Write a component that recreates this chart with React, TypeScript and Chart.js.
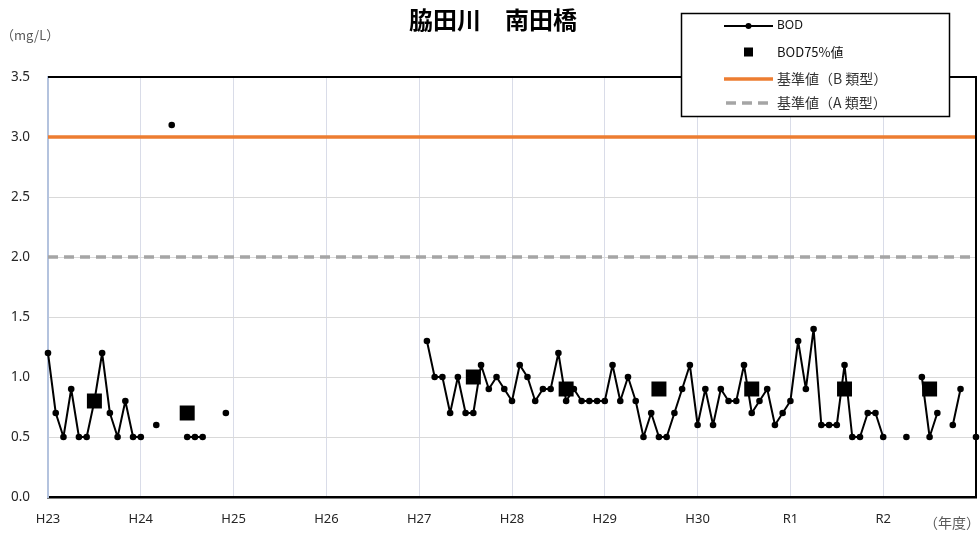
import React, { useEffect, useRef } from "react";
import { Chart, registerables } from "chart.js";

Chart.register(...registerables);

const yearLabels = ["H23", "H24", "H25", "H26", "H27", "H28", "H29", "H30", "R1", "R2"];

// Monthly BOD (Apr..Mar) per fiscal year, mg/L
const bodH23 = [1.2, 0.7, 0.5, 0.9, 0.5, 0.5, 0.8, 1.2, 0.7, 0.5, 0.8, 0.5];
const bodH24 = [0.5, null, 0.6, null, 3.1, null, 0.5, 0.5, 0.5, null, null, 0.7];
const bodH25 = [null, null, null, null, null, null, null, null, null, null, null, null];
const bodH26 = [null, null, null, null, null, null, null, null, null, null, null, null];
const bodH27 = [null, 1.3, 1.0, 1.0, 0.7, 1.0, 0.7, 0.7, 1.1, 0.9, 1.0, 0.9];
const bodH28 = [0.8, 1.1, 1.0, 0.8, 0.9, 0.9, 1.2, 0.8, 0.9, 0.8, 0.8, 0.8];
const bodH29 = [0.8, 1.1, 0.8, 1.0, 0.8, 0.5, 0.7, 0.5, 0.5, 0.7, 0.9, 1.1];
const bodH30 = [0.6, 0.9, 0.6, 0.9, 0.8, 0.8, 1.1, 0.7, 0.8, 0.9, 0.6, 0.7];
const bodR1 = [0.8, 1.3, 0.9, 1.4, 0.6, 0.6, 0.6, 1.1, 0.5, 0.5, 0.7, 0.7];
const bodR2 = [0.5, null, null, 0.5, null, 1.0, 0.5, 0.7, null, 0.6, 0.9, null];
const bodR3Apr = [0.5];

// BOD 75% value: month index (from H23 April) and value
const bod75Index = [6, 18, 55, 67, 79, 91, 103, 114];
const bod75Value = [0.8, 0.7, 1.0, 0.9, 0.9, 0.9, 0.9, 0.9];

const standardB = 3.0;
const standardA = 2.0;

const yTicks = [0, 0.5, 1.0, 1.5, 2.0, 2.5, 3.0, 3.5];

const FONT_JP = '"Noto Sans CJK JP", "Noto Sans", sans-serif';
const FONT_LAT = '"Noto Sans", "Open Sans", sans-serif';

export default function App() {
  const ref = useRef<HTMLCanvasElement | null>(null);

  useEffect(() => {
    const bod: (number | null)[] = [
      ...bodH23, ...bodH24, ...bodH25, ...bodH26, ...bodH27,
      ...bodH28, ...bodH29, ...bodH30, ...bodR1, ...bodR2, ...bodR3Apr,
    ];
    const n = bod.length;
    const labels: string[] = [];
    for (let i = 0; i < n; i++) labels.push(String(i));
    const bod75: (number | null)[] = new Array(n).fill(null);
    bod75Index.forEach((idx, k) => (bod75[idx] = bod75Value[k]));
    const lineB = new Array(n).fill(standardB);
    const lineA = new Array(n).fill(standardA);

    const decor = {
      id: "decor",
      afterDraw(chart: any) {
        const { ctx, chartArea } = chart;
        const { left, right, top, bottom } = chartArea;
        ctx.save();
        // top & right frame
        ctx.strokeStyle = "#000";
        ctx.lineWidth = 2;
        ctx.beginPath();
        ctx.moveTo(left, top);
        ctx.lineTo(right, top);
        ctx.lineTo(right, bottom);
        ctx.stroke();

        // title
        ctx.fillStyle = "#000";
        ctx.font = `bold 24px ${FONT_JP}`;
        ctx.textAlign = "center";
        ctx.textBaseline = "middle";
        ctx.fillText("脇田川　南田橋", 493, 20);

        // unit labels
        ctx.fillStyle = "#595959";
        ctx.font = `13px ${FONT_JP}`;
        ctx.textAlign = "left";
        ctx.fillText("（mg/L）", 1, 35);
        ctx.font = `14px ${FONT_JP}`;
        ctx.textAlign = "right";
        ctx.fillText("（年度）", 980, 523);

        // legend box
        const bx = 681.5, by = 13.5, bw = 268, bh = 103;
        ctx.fillStyle = "#fff";
        ctx.fillRect(bx, by, bw, bh);
        ctx.strokeStyle = "#000";
        ctx.lineWidth = 1.5;
        ctx.strokeRect(bx, by, bw, bh);

        const lx0 = 724, lx1 = 773, tx = 777;
        // BOD
        ctx.strokeStyle = "#000";
        ctx.lineWidth = 2;
        ctx.beginPath();
        ctx.moveTo(lx0, 26);
        ctx.lineTo(lx1, 26);
        ctx.stroke();
        ctx.fillStyle = "#000";
        ctx.beginPath();
        ctx.arc(748.5, 26, 3, 0, Math.PI * 2);
        ctx.fill();
        // BOD75
        ctx.fillRect(744, 47.5, 9, 9);
        // B standard
        ctx.strokeStyle = "#ED7D31";
        ctx.lineWidth = 3.5;
        ctx.beginPath();
        ctx.moveTo(lx0, 79);
        ctx.lineTo(lx1, 79);
        ctx.stroke();
        // A standard
        ctx.strokeStyle = "#A5A5A5";
        ctx.setLineDash([10, 6]);
        ctx.beginPath();
        ctx.moveTo(lx0 + 2, 103);
        ctx.lineTo(lx1, 103);
        ctx.stroke();
        ctx.setLineDash([]);

        ctx.textAlign = "left";
        ctx.textBaseline = "middle";
        ctx.fillStyle = "#111";
        ctx.font = `12px ${FONT_LAT}`;
        ctx.fillText("BOD", tx, 26);
        ctx.font = `13px ${FONT_JP}`;
        ctx.fillText("BOD75%値", tx, 52);
        ctx.fillStyle = "#333";
        ctx.font = `14px ${FONT_JP}`;
        ctx.fillText("基準値（B 類型）", tx, 79);
        ctx.fillText("基準値（A 類型）", tx, 103);
        ctx.restore();
      },
    };

    const chart = new Chart(ref.current as HTMLCanvasElement, {
      type: "line",
      data: {
        labels,
        datasets: [
          {
            label: "BOD75%値",
            data: bod75,
            showLine: false,
            pointStyle: "rect",
            pointRadius: 10.6,
            pointHoverRadius: 10.6,
            pointBackgroundColor: "#000",
            pointBorderColor: "#000",
            pointBorderWidth: 0,
            clip: 12,
            order: 0,
          },
          {
            label: "BOD",
            data: bod,
            borderColor: "#000",
            borderWidth: 2,
            borderJoinStyle: "round",
            pointRadius: 3.3,
            pointBackgroundColor: "#000",
            pointBorderColor: "#000",
            pointBorderWidth: 0,
            spanGaps: false,
            tension: 0,
            clip: 6,
            order: 1,
          },
          {
            label: "基準値（B類型）",
            data: lineB,
            borderColor: "#ED7D31",
            borderWidth: 3.5,
            pointRadius: 0,
            order: 2,
          },
          {
            label: "基準値（A類型）",
            data: lineA,
            borderColor: "#A5A5A5",
            borderWidth: 3.5,
            borderDash: [10, 6],
            pointRadius: 0,
            order: 3,
          },
        ],
      },
      options: {
        responsive: false,
        animation: false,
        devicePixelRatio: 1,
        layout: { autoPadding: false, padding: { top: 77, right: 4, left: 0, bottom: 0 } },
        plugins: {
          legend: { display: false },
          tooltip: { enabled: false },
          title: { display: false },
        },
        scales: {
          x: {
            type: "category",
            offset: false,
            afterFit: (s: any) => {
              s.height = 41;
              s.paddingRight = 0;
              s.paddingLeft = 0;
            },
            grid: {
              drawTicks: false,
              color: (c: any) => (c.index % 12 === 0 ? "#D9DCE8" : "rgba(0,0,0,0)"),
              lineWidth: 1,
            },
            border: { display: true, color: "#000", width: 2.5 },
            ticks: {
              autoSkip: false,
              maxRotation: 0,
              minRotation: 0,
              padding: 14,
              color: "#262626",
              font: { family: FONT_LAT, size: 13 },
              callback: (_v: any, i: number) =>
                i % 12 === 0 && i / 12 < yearLabels.length ? yearLabels[i / 12] : "",
            },
          },
          y: {
            min: 0,
            max: 3.5,
            afterFit: (s: any) => {
              s.width = 48;
            },
            afterBuildTicks: (s: any) => {
              s.ticks = yTicks.map((v) => ({ value: v }));
            },
            grid: { drawTicks: false, color: "#D9D9D9", lineWidth: 1 },
            border: { display: true, color: "#B4C3DE", width: 2 },
            ticks: {
              padding: 18,
              color: "#262626",
              font: { family: FONT_LAT, size: 13.5 },
              callback: (v: any) => Number(v).toFixed(1),
            },
          },
        },
      },
      plugins: [decor],
    });
    return () => chart.destroy();
  }, []);

  return (
    <div style={{ position: "absolute", left: 0, top: 0, width: 980, height: 538, background: "#fff" }}>
      <canvas ref={ref} width={980} height={538} style={{ width: 980, height: 538 }} />
    </div>
  );
}
